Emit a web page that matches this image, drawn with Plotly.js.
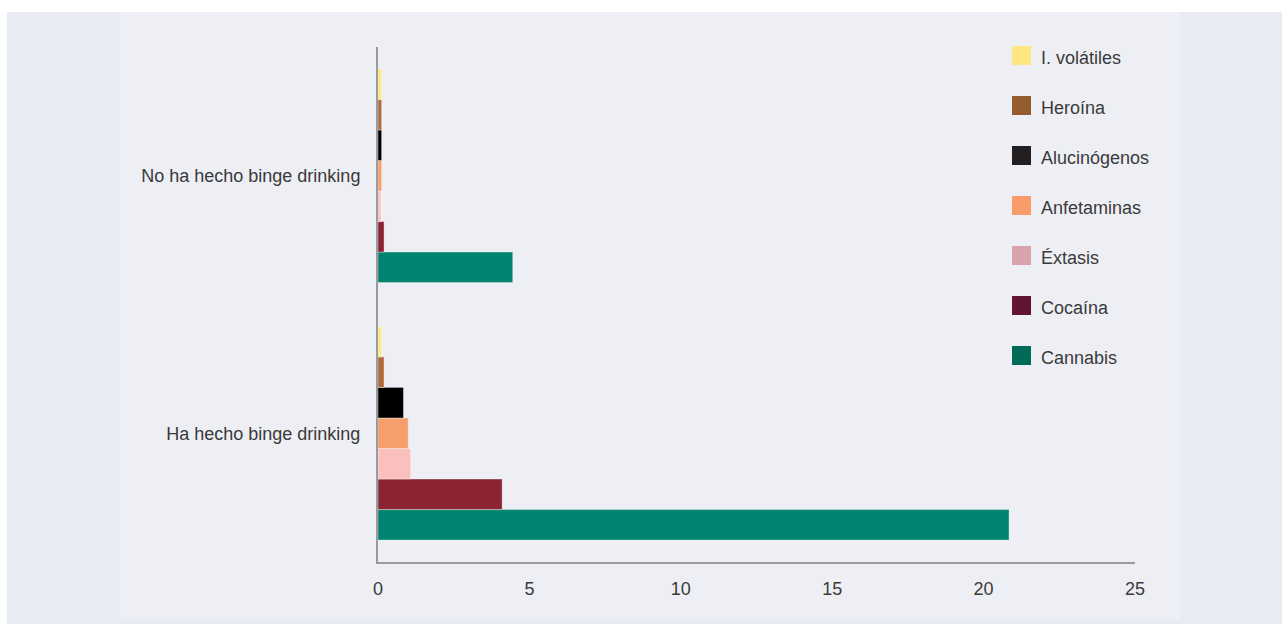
<!DOCTYPE html>
<html>
<head>
<meta charset="utf-8">
<script src="https://cdn.plot.ly/plotly-3.0.1.min.js"></script>
<style>
  html, body { margin:0; padding:0; background:#ffffff; width:1282px; height:624px; overflow:hidden; }
  #outer { position:absolute; left:7px; top:12px; width:1275px; height:612px; background:#e8ebf4; }
  #chart { position:absolute; left:120px; top:12px; width:1060px; height:607px; }
</style>
</head>
<body>
<div id="outer"></div>
<div id="chart"></div>
<script>
// Categories (bottom to top on the axis)
const categories = ["Ha hecho binge drinking", "No ha hecho binge drinking"];

// Series (listed in order within each group: bottom -> top)
const seriesNames = ["Cannabis", "Cocaína", "Éxtasis", "Anfetaminas", "Alucinógenos", "Heroína", "I. volátiles"];
const cannabis     = [20.84, 4.45];
const cocaina      = [4.1, 0.2];
const extasis      = [1.08, 0.1];
const anfetaminas  = [1.0, 0.12];
const alucinogenos = [0.84, 0.12];
const heroina      = [0.2, 0.12];
const volatiles    = [0.12, 0.12];
const seriesValues = [cannabis, cocaina, extasis, anfetaminas, alucinogenos, heroina, volatiles];

const barColors    = ["#00846f", "#8b2432", "#fac0bd", "#f5a06c", "#000000", "#b06b3c", "#fde982"];
const legendColors = ["#006b56", "#641433", "#d8a3ab", "#f89c6a", "#231f20", "#955c32", "#ffe680"];

const xTicks = [0, 5, 10, 15, 20, 25];

const FONT = "'Liberation Sans', Arial, Helvetica, sans-serif";

const traces = seriesNames.map((name, i) => ({
  type: "bar",
  orientation: "h",
  name: name,
  y: categories,
  x: seriesValues[i],
  marker: { color: barColors[i], line: { color: "rgba(255,255,255,0.35)", width: 1 } },
  showlegend: false,
  hoverinfo: "none"
}));

// Manual legend (reference legend swatches use different tones than bars)
const L = 258, R = 45, T = 35, B = 57;
const PW = 1060 - L - R, PH = 607 - T - B;
function px2x(px) { return (px - (120 + L)) / PW; }
function py2y(py) { return ((12 + T + PH) - py) / PH; }

const shapes = [];
const annotations = [];
const legendOrder = [6, 5, 4, 3, 2, 1, 0];
legendOrder.forEach((idx, k) => {
  const top = 46 + k * 50;
  shapes.push({
    type: "rect", xref: "paper", yref: "paper",
    x0: px2x(1012), x1: px2x(1031), y0: py2y(top + 19), y1: py2y(top),
    fillcolor: legendColors[idx], line: { width: 0 }
  });
  annotations.push({
    xref: "paper", yref: "paper", x: px2x(1039), y: py2y(top + 12),
    xanchor: "left", yanchor: "middle", showarrow: false,
    text: seriesNames[idx], font: { family: FONT, size: 18, color: "#3a3a3a" }
  });
});

const layout = {
  width: 1060, height: 607,
  margin: { l: L, r: R, t: T, b: B, pad: 0 },
  paper_bgcolor: "#eeeff5",
  plot_bgcolor: "#eeeff5",
  barmode: "group",
  bargap: 0.17,
  bargroupgap: 0,
  showlegend: false,
  font: { family: FONT, size: 18, color: "#3a3a3a" },
  xaxis: {
    range: [0, 25],
    tickvals: xTicks,
    ticktext: xTicks.map(String),
    showgrid: false, zeroline: false,
    showline: true, linecolor: "#9b9b9b", linewidth: 2,
    ticks: "outside", ticklen: 9, tickcolor: "rgba(0,0,0,0)",
    tickfont: { family: FONT, size: 18, color: "#3a3a3a" },
    fixedrange: true
  },
  yaxis: {
    type: "category",
    range: [-0.5, 1.5],
    showgrid: false, zeroline: false,
    showline: true, linecolor: "#9b9b9b", linewidth: 2,
    ticks: "outside", ticklen: 12, tickcolor: "rgba(0,0,0,0)",
    tickfont: { family: FONT, size: 18, color: "#3a3a3a" },
    fixedrange: true
  },
  shapes: shapes,
  annotations: annotations
};

Plotly.newPlot("chart", traces, layout, { staticPlot: true, displayModeBar: false });
</script>
</body>
</html>
